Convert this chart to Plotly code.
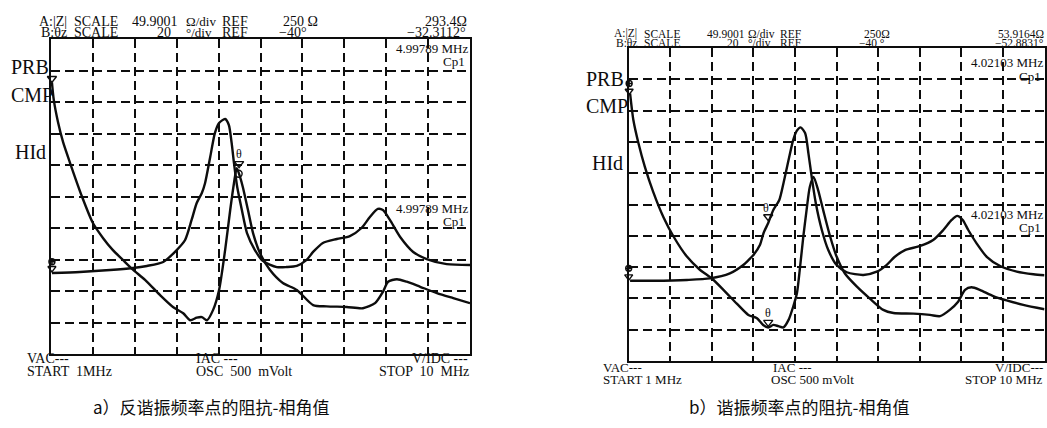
import plotly.graph_objects as go

W, H = 1047, 428
INK = "#0d0d0d"
SERIF = "Liberation Serif, Times New Roman, serif"
CJK = "Noto Sans CJK SC, sans-serif"

# ---------------- scales (instrument settings) ----------------
F_START, F_STOP, F_DIV = 1.0, 10.0, 0.9          # MHz
Z_REF, Z_DIV = 250.0, 49.9001                    # ohm, ohm/div
TH_REF, TH_DIV = -40.0, 20.0                     # deg, deg/div

# ---------------- panel a: anti-resonance marker ----------------
a_f_z = [1.02, 1.06, 1.15, 1.26, 1.41, 1.67, 1.90, 2.12, 2.33, 2.55,
         2.76, 3.02, 3.34, 3.62, 3.84, 3.99, 4.13, 4.24, 4.35, 4.48,
         4.61, 4.74, 4.85, 4.93, 4.99, 5.06, 5.12, 5.23, 5.34, 5.49,
         5.70, 5.98, 6.28, 6.63, 6.92, 7.35, 7.70, 7.96, 8.13, 8.24,
         8.43, 8.64, 8.93, 9.29, 9.64, 10.0]
a_z = [431, 403, 368, 336, 303, 249, 208, 184, 165, 149,
       134, 118, 94, 75, 65, 54, 58, 59, 54, 70,
       102, 165, 229, 271, 295, 281, 265, 229, 192, 160,
       134, 113, 102, 78, 76, 75, 73, 81, 99, 115,
       119, 115, 107, 97, 89, 81]

a_f_th = [1.02, 1.62, 2.27, 2.76, 3.06, 3.41, 3.70, 3.88, 4.02, 4.13,
          4.24, 4.31, 4.42, 4.52, 4.61, 4.74, 4.82, 4.88, 4.93, 5.00,
          5.10, 5.21, 5.38, 5.55, 5.85, 6.06, 6.28, 6.49, 6.63, 6.84,
          7.14, 7.42, 7.67, 7.85, 8.02, 8.13, 8.28, 8.50, 8.78, 9.07,
          9.50, 10.0]
a_th = [-88.6, -87.9, -86.7, -85.4, -84.1, -81.6, -74.0, -67.6, -54.9, -44.1,
        -37.8, -31.4, -14.9, 0.3, 6.7, 9.2, 5.4, -6.0, -18.7, -34.0,
        -48.6, -63.2, -74.0, -80.9, -84.8, -84.8, -84.1, -80.3, -75.2, -69.5,
        -67.0, -65.1, -60.0, -53.0, -47.9, -48.6, -54.9, -65.7, -75.2, -79.7,
        -82.9, -83.5]

# ---------------- panel b: resonance marker ----------------
b_f_z = [1.03, 1.10, 1.21, 1.35, 1.53, 1.75, 1.97, 2.26, 2.54, 2.80,
         3.05, 3.34, 3.59, 3.77, 3.91, 4.02, 4.13, 4.24, 4.35, 4.46,
         4.56, 4.64, 4.71, 4.78, 4.85, 4.92, 5.00, 5.10, 5.21, 5.36,
         5.50, 5.68, 5.94, 6.22, 6.51, 6.73, 7.16, 7.52, 7.74, 7.95,
         8.13, 8.28, 8.42, 8.60, 8.89, 9.18, 9.54, 10.0]
b_z = [427, 385, 348, 310, 270, 230, 199, 167, 146, 132,
       114, 92, 74, 69, 58, 54, 58, 56, 54, 66,
       87, 108, 151, 199, 241, 278, 294, 273, 241, 199,
       167, 140, 119, 100, 82, 77, 76, 74, 72, 82,
       95, 114, 118, 114, 104, 97, 90, 83]

b_f_th = [1.03, 1.53, 2.26, 2.76, 3.19, 3.48, 3.63, 3.70, 3.84, 3.92,
          4.02, 4.13, 4.26, 4.35, 4.46, 4.56, 4.64, 4.72, 4.82, 4.89,
          4.96, 5.05, 5.18, 5.32, 5.50, 5.72, 6.08, 6.37, 6.58, 6.76,
          6.98, 7.31, 7.59, 7.81, 7.99, 8.11, 8.23, 8.35, 8.53, 8.75,
          9.04, 9.40, 9.76, 10.0]
b_th = [-88.7, -88.7, -88.2, -87.2, -84.0, -78.7, -74.4, -72.3, -65.9, -58.2,
        -51.8, -43.5, -37.1, -26.4, -11.6, 1.2, 7.2, 9.3, 5.5, -7.3,
        -22.2, -39.2, -56.3, -69.1, -78.7, -83.3, -85.0, -82.9, -78.7, -73.4,
        -69.1, -66.5, -62.7, -56.3, -49.9, -47.3, -49.9, -56.3, -64.8, -73.4,
        -79.3, -82.9, -84.6, -85.2]

captions = ["a）反谐振频率点的阻抗-相角值", "b）谐振频率点的阻抗-相角值"]

# ---------------- figure ----------------
fig = go.Figure()
curve = dict(color=INK, width=2.4, shape="spline", smoothing=0.7)

fig.add_trace(go.Scatter(x=a_f_z, y=a_z, mode="lines", line=curve, xaxis="x", yaxis="y"))
fig.add_trace(go.Scatter(x=a_f_th, y=a_th, mode="lines", line=curve, xaxis="x", yaxis="y2"))
fig.add_trace(go.Scatter(x=b_f_z, y=b_z, mode="lines", line=curve, xaxis="x2", yaxis="y3"))
fig.add_trace(go.Scatter(x=b_f_th, y=b_th, mode="lines", line=curve, xaxis="x2", yaxis="y4"))


def mark(x, y, symbol, size, xa, ya):
    fig.add_trace(go.Scatter(
        x=[x], y=[y], mode="markers", xaxis=xa, yaxis=ya, cliponaxis=False,
        marker=dict(symbol=symbol, size=size, color=INK,
                    line=dict(color=INK, width=1.4))))


# panel a markers
mark(1.02, 437, "triangle-down-open", 8, "x", "y")
mark(1.02, -81.4, "circle-cross-open", 6, "x", "y2")
mark(1.02, -85.6, "triangle-down-open", 7, "x", "y2")
mark(0.93, Z_REF, "triangle-right", 9, "x", "y")
mark(5.04, 302, "triangle-down-open", 8, "x", "y")
mark(5.03, 286, "circle-open", 7, "x", "y")
# panel b markers
mark(1.01, 443, "circle-cross-open", 6, "x2", "y3")
mark(1.01, 431, "triangle-down-open", 7, "x2", "y3")
mark(1.0, -80.8, "circle-cross-open", 6, "x2", "y4")
mark(1.0, -86.1, "triangle-down-open", 7, "x2", "y4")
mark(0.90, Z_REF, "triangle-right", 9, "x2", "y3")
mark(4.02, -47.8, "triangle-down-open", 8, "x2", "y4")
mark(4.02, 62, "triangle-down-open", 8, "x2", "y3")

grid = dict(showgrid=True, gridcolor=INK, gridwidth=1.8, griddash="9px,5px",
            showline=True, mirror=True, linecolor=INK, linewidth=1.8,
            showticklabels=False, ticks="", zeroline=False, fixedrange=True)
x_ax = dict(range=[F_START, F_STOP], tick0=F_START, dtick=F_DIV, **grid)
z_ax = dict(range=[Z_REF - 5 * Z_DIV, Z_REF + 5 * Z_DIV], tick0=Z_REF, dtick=Z_DIV, **grid)
th_ax = dict(range=[TH_REF - 5 * TH_DIV, TH_REF + 5 * TH_DIV], visible=False, fixedrange=True)

A = dict(l=51, r=470, t=39, b=354)
B = dict(l=628.7, r=1044.5, t=48, b=361)

fig.update_layout(
    width=W, height=H, margin=dict(l=0, r=0, t=0, b=0),
    paper_bgcolor="white", plot_bgcolor="white", showlegend=False,
    xaxis=dict(domain=[A["l"] / W, A["r"] / W], anchor="y", **x_ax),
    yaxis=dict(domain=[1 - A["b"] / H, 1 - A["t"] / H], anchor="x", **z_ax),
    yaxis2=dict(overlaying="y", anchor="x", **th_ax),
    xaxis2=dict(domain=[B["l"] / W, B["r"] / W], anchor="y3", **x_ax),
    yaxis3=dict(domain=[1 - B["b"] / H, 1 - B["t"] / H], anchor="x2", **z_ax),
    yaxis4=dict(overlaying="y3", anchor="x2", **th_ax),
)

anns = []


def note(text, x, y, size=14, xanchor="left", family=SERIF):
    anns.append(dict(text=text, x=x / W, y=1 - y / H, xref="paper", yref="paper",
                     xanchor=xanchor, yanchor="middle", showarrow=False,
                     font=dict(family=family, size=size, color=INK)))


def dnote(text, x, y, xa, ya, size=13):
    anns.append(dict(text=text, x=x, y=y, xref=xa, yref=ya, showarrow=False,
                     xanchor="center", yanchor="middle",
                     font=dict(family=SERIF, size=size, color=INK)))


# ----- panel a header -----
y1, y2 = 21.5, 32
note("A:|Z|", 37, y1); note("SCALE", 72, y1); note("49.9001", 130, y1); note("Ω/div", 184, y1, 13)
note("REF", 220, y1); note("250 Ω", 281, y1); note("293.4Ω", 469, y1, xanchor="right")
note("B:θz", 39, y2); note("SCALE", 72, y2); note("20", 155, y2); note("°/div", 184, y2, 13)
note("REF", 220, y2); note("−40°", 277, y2); note("−32.3112°", 467, y2, xanchor="right")
note("4.99789 MHz", 470, 48, size=13, xanchor="right"); note("Cp1", 467, 62, size=13, xanchor="right")
note("4.99789 MHz", 470, 208, size=13, xanchor="right"); note("Cp1", 467, 221, size=13, xanchor="right")
note("PRB", 9, 67, size=20); note("CMP", 9, 95, size=20); note("HId", 13, 152, size=20)
note("VAC---", 25, 358); note("START  1MHz", 25, 371)
note("IAC ---", 194, 358); note("OSC  500  mVolt", 194, 371)
note("V/IDC ---", 470, 358, xanchor="right"); note("STOP  10  MHz", 471, 371, xanchor="right")
dnote("θ", 5.04, 318, "x", "y", size=12)

# ----- panel b header -----
y1, y2 = 34, 42.5
S = 11.5
note("A:|Z|", 612, y1, S); note("SCALE", 642, y1, S); note("49.9001", 705, y1, S); note("Ω/div", 746, y1, S)
note("REF", 778, y1, S); note("250Ω", 862, y1, S); note("53.9164Ω", 1046, y1, S, xanchor="right")
note("B:θz", 614, y2, S); note("SCALE", 642, y2, S); note("20", 725, y2, S); note("°/div", 746, y2, S)
note("REF", 778, y2, S); note("−40 °", 857, y2, S); note("−52.8831°", 1046, y2, S, xanchor="right")
note("4.02103 MHz", 1045, 63, 13, xanchor="right"); note("Cp1", 1043, 76, 13, xanchor="right")
note("4.02103 MHz", 1045, 214, 13, xanchor="right"); note("Cp1", 1043, 228, 13, xanchor="right")
note("PRB", 584, 79, size=20); note("CMP", 584, 106, size=20); note("HId", 590, 163, size=20)
note("VAC---", 601, 367, 13); note("START 1 MHz", 601, 379, 13)
note("IAC ---", 771, 367, 13); note("OSC 500 mVolt", 769, 379, 13)
note("V/IDC---", 1045, 367, 13, xanchor="right"); note("STOP 10 MHz", 1045, 379, 13, xanchor="right")
dnote("θ", 3.98, -42.5, "x2", "y4", size=12)
dnote("θ", 4.02, 77, "x2", "y3", size=12)

# ----- captions -----
note(captions[0], 211, 406, size=17, xanchor="center", family=CJK)
note(captions[1], 799, 406, size=17, xanchor="center", family=CJK)

fig.update_layout(annotations=anns)
fig.write_html("out.html", config={"displayModeBar": False},
               post_script="document.body.style.margin='0px';")
